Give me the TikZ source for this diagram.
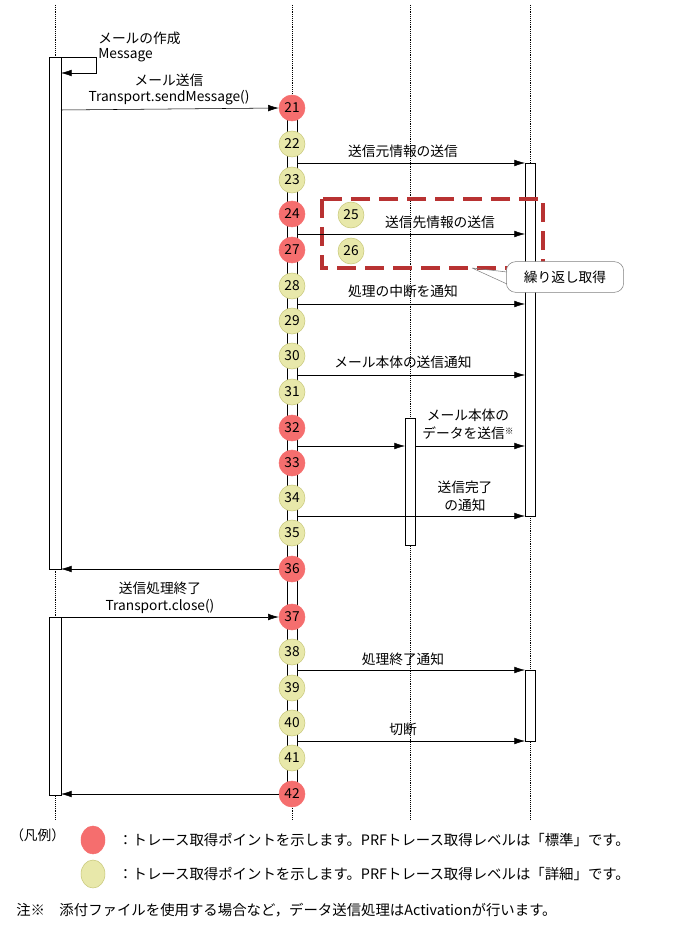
\documentclass[tikz,border=0pt]{standalone}
\usepackage{fontspec}
\setmainfont{Noto Sans CJK JP}
\usetikzlibrary{arrows.meta,shapes.geometric}
\definecolor{rp}{HTML}{F56E6E}
\definecolor{yp}{HTML}{E8E8AA}
\definecolor{yb}{HTML}{C8C87A}
\definecolor{dr}{HTML}{B83232}
\begin{document}
\begin{tikzpicture}[x=0.75pt,y=-0.75pt,font=\fontsize{10.3}{12}\selectfont,
 life/.style={densely dotted,thin},
 bar/.style={draw,fill=white},
 msg/.style={-{Latex[length=8pt,width=5pt]},thin},
 red/.style={circle,fill=rp,draw=rp,minimum size=19.5pt,inner sep=0pt},
 yel/.style={circle,fill=yp,draw=yb,minimum size=19.5pt,inner sep=0pt},
 lbl/.style={align=center,inner sep=1pt}]
\useasboundingbox (0,0) rectangle (688,927);
\foreach \x in {55,292,410,530} \draw[life] (\x,5) -- (\x,820);
\draw[bar] (49,57) rectangle (61,569);
\draw[bar] (49,617) rectangle (61,795);
\draw[bar] (287,108) rectangle (297,794);
\draw[bar] (525,163) rectangle (535,516);
\draw[bar] (525,670) rectangle (535,741);
\draw[bar] (405,418) rectangle (415,545);
% dashed box
\draw[dr,line width=2.6pt,dash pattern=on 14pt off 7pt] (322,199) rectangle (543,268);
\foreach \n/\y/\s in {21/108/red,22/144/yel,23/180/yel,24/214/red,27/250/red,28/286/yel,29/321/yel,30/356/yel,31/392/yel,32/428/red,33/463/red,34/498/yel,35/533/yel,36/569/red,37/617/red,38/652/yel,39/688/yel,40/723/yel,41/758/yel,42/794/red}
  \node[\s] (p\n) at (292,\y) {\n};
\node[yel] (p25) at (351,215) {25};
\node[yel] (p26) at (351,251) {26};
% callout
\node[draw=gray,rounded corners=7pt,minimum width=88pt,minimum height=23pt,fill=white] (call) at (565,277) {繰り返し取得};
\draw[gray] (472,268) -- (507,272) (472,268) -- (507,284);
\fill[white] (506.5,273) rectangle (508,283);
% self message
\coordinate (s1) at (61,57); \coordinate (s2) at (96,57); \coordinate (s3) at (96,73); \coordinate (s4) at (61,73);
\draw[msg] (s1) -- (s2) -- (s3) -- (s4);
\node[anchor=west,inner sep=0] (t1) at (98,38) {メールの作成};
\node[anchor=west,inner sep=0] (t2) at (98,55) {Message};
\draw[msg] (61,110) -- (p21.west);
\node[lbl] (t3) at (169,80) {メール送信};
\node[lbl] (t4) at (169,98) {Transport.sendMessage()};
\draw[msg] (297,163) -- (525,163); \node[lbl] (t5) at (403,151) {送信元情報の送信};
\draw[msg] (297,234) -- (525,234); \node[lbl] (t6) at (440,222) {送信先情報の送信};
\draw[msg] (297,304) -- (525,304); \node[lbl] (t7) at (403,291) {処理の中断を通知};
\draw[msg] (297,375) -- (525,375); \node[lbl] (t8) at (403,362) {メール本体の送信通知};
\draw[msg] (297,446) -- (405,446);
\draw[msg] (415,446) -- (525,446);
\node[lbl,font=\fontsize{10.3}{13.5}\selectfont] (t9) at (468,424) {メール本体の\\データを送信\raisebox{0.5ex}{\fontsize{6.5}{6.5}\selectfont ※}};
\draw[msg] (297,516) -- (525,516); \node[lbl,font=\fontsize{10.3}{13.5}\selectfont] (t10) at (465,496) {送信完了\\の通知};
\draw[msg] (p36.west) -- (61,569);
\draw[msg] (61,617) -- (p37.west);
\node[lbl] (t11) at (160,588) {送信処理終了};
\node[lbl] (t12) at (160,606) {Transport.close()};
\draw[msg] (297,670) -- (525,670); \node[lbl] (t13) at (403,659) {処理終了通知};
\draw[msg] (297,741) -- (525,741); \node[lbl] (t14) at (403,729) {切断};
\draw[msg] (p42.west) -- (61,794);
% legend
\node[anchor=west,inner sep=0] (l0) at (10,835) {（凡例）};
\node[ellipse,fill=rp,draw=rp,minimum width=18pt,minimum height=21pt] (l1) at (93,840) {};
\node[ellipse,fill=yp,draw=yb,minimum width=18pt,minimum height=21pt] (l2) at (93,874) {};
\node[anchor=west,inner sep=0,font=\fontsize{10.8}{12}\selectfont] (l3) at (118,840) {：トレース取得ポイントを示します。PRFトレース取得レベルは「標準」です。};
\node[anchor=west,inner sep=0,font=\fontsize{10.8}{12}\selectfont] (l4) at (118,874) {：トレース取得ポイントを示します。PRFトレース取得レベルは「詳細」です。};
\node[anchor=west,inner sep=0,font=\fontsize{10.8}{12}\selectfont] (l5) at (16,910) {注※\quad 添付ファイルを使用する場合など，データ送信処理はActivationが行います。};
\end{tikzpicture}
\end{document}
